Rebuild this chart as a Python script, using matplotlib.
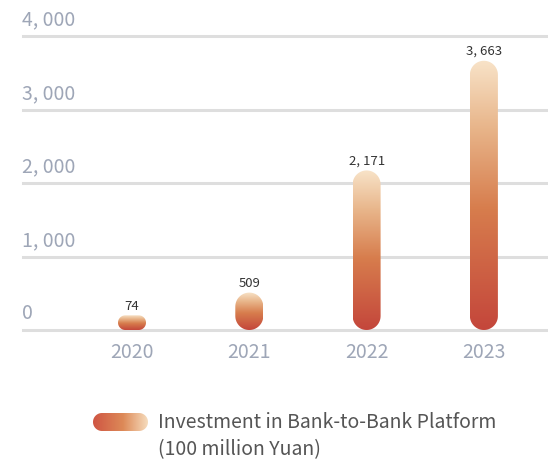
import numpy as np
import matplotlib
matplotlib.use('Agg')
import matplotlib.pyplot as plt
from matplotlib.colors import LinearSegmentedColormap
from matplotlib.patches import PathPatch
from matplotlib.path import Path

plt.rcParams['font.family'] = ['Noto Sans CJK SC', 'DejaVu Sans']

years = ['2020', '2021', '2022', '2023']
investment = [74, 509, 2171, 3663]
y_ticks = [0, 1000, 2000, 3000, 4000]
legend_text = 'Investment in Bank-to-Bank Platform\n(100 million Yuan)'

W, H = 548, 465
tick_color = '#9ea6b7'
grid_color = '#dedede'

bar_cmap = LinearSegmentedColormap.from_list(
    'bar', [(0.0, '#c4463b'), (0.45, '#d77d4d'), (0.75, '#e8b58a'), (1.0, '#f8e3c8')])


def fmt(v):
    return '{:,}'.format(v).replace(',', ', ')


def capsule(ax, x0, x1, y0, y1):
    # rounded box whose corner radius is half of its short side (in pixels)
    T = ax.transData
    (px0, py0), (px1, py1) = T.transform([(x0, y0), (x1, y1)])
    r = min(px1 - px0, py1 - py0) / 2
    t = np.linspace(0, np.pi / 2, 20)
    pts = []
    for cx, cy, a in [(px1 - r, py0 + r, -np.pi / 2), (px1 - r, py1 - r, 0),
                      (px0 + r, py1 - r, np.pi / 2), (px0 + r, py0 + r, np.pi)]:
        pts += list(zip(cx + r * np.cos(t + a), cy + r * np.sin(t + a)))
    pts.append(pts[0])
    verts = T.inverted().transform(pts)
    return PathPatch(Path(verts, closed=True), facecolor='none', edgecolor='none')


def gradient_fill(ax, patch, extent, horizontal=False, cmap=bar_cmap):
    ax.add_patch(patch)
    g = np.linspace(0, 1, 256)
    data = g.reshape(1, -1) if horizontal else g.reshape(-1, 1)
    im = ax.imshow(data, extent=extent, origin='lower', cmap=cmap,
                   aspect='auto', interpolation='bilinear')
    im.set_clip_path(patch)


fig = plt.figure(figsize=(W / 100, H / 100), dpi=100)
ax = fig.add_axes([23 / W, (H - 330) / H, 525 / W, 294 / H])
step = 117.3
ax.set_xlim(-109 / step, (525 - 109) / step)
ax.set_ylim(0, 4000)
ax.axis('off')

# grid lines with labels sitting on top of them
for v in y_ticks:
    ax.axhline(v, color=grid_color, lw=2.2, clip_on=False, zorder=0)
    ax.annotate(fmt(v), xy=(0, v), xycoords=ax.get_yaxis_transform(),
                xytext=(-1, 4), textcoords='offset points', ha='left', va='bottom',
                fontsize=14, color=tick_color, annotation_clip=False)

half = 14 / step
min_h = 200
for i, (yr, v) in enumerate(zip(years, investment)):
    top = max(v, min_h)
    p = capsule(ax, i - half, i + half, 0, top)
    gradient_fill(ax, p, (i - half, i + half, 0, top))
    ax.annotate(fmt(v), xy=(i, top), xytext=(0, 2), textcoords='offset points',
                ha='center', va='bottom', fontsize=9.5, color='#333333',
                annotation_clip=False)
    ax.annotate(yr, xy=(i, 0), xytext=(0, -9), textcoords='offset points',
                ha='center', va='top', fontsize=14, color=tick_color,
                annotation_clip=False)
ax.set_xlim(-109 / step, (525 - 109) / step)
ax.set_ylim(0, 4000)

# legend
lax = fig.add_axes([93 / W, (H - 431) / H, 55 / W, 18 / H])
lax.set_xlim(0, 1)
lax.set_ylim(0, 1)
lax.axis('off')
leg_cmap = LinearSegmentedColormap.from_list(
    'leg', [(0.0, '#cf5543'), (0.55, '#dd8a58'), (1.0, '#f6dcbd')])
gradient_fill(lax, capsule(lax, 0, 1, 0, 1), (0, 1, 0, 1), horizontal=True, cmap=leg_cmap)
lax.set_xlim(0, 1)
lax.set_ylim(0, 1)

fig.text(158 / W, 1 - 412 / H, legend_text, ha='left', va='top',
         fontsize=14, color='#555555', linespacing=1.4)

fig.savefig('out.png', dpi=100)
